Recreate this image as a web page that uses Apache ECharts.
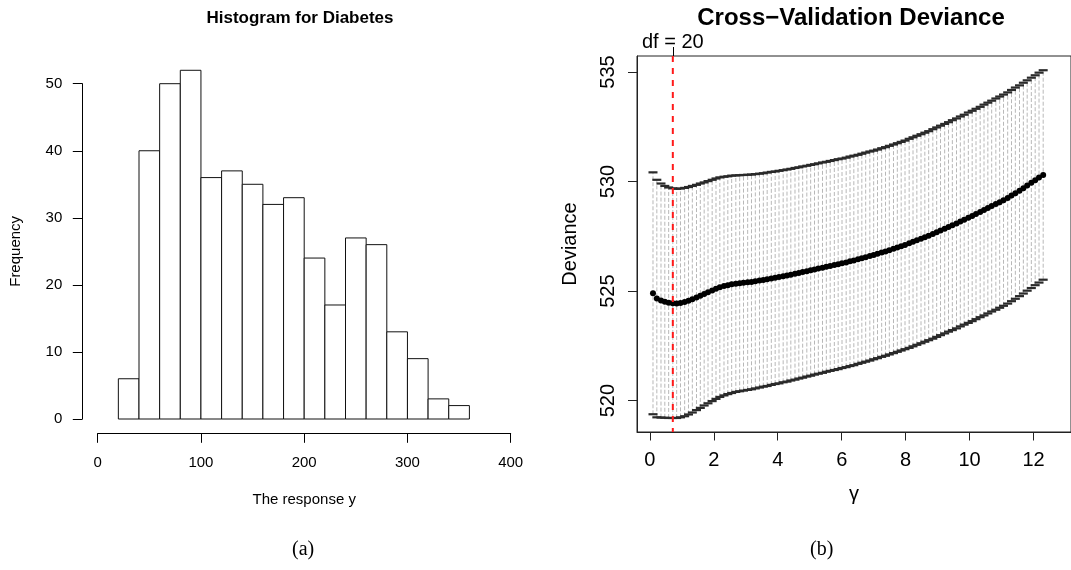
<!DOCTYPE html>
<html><head><meta charset="utf-8">
<script src="https://cdn.jsdelivr.net/npm/echarts@6/dist/echarts.min.js"></script>
<style>html,body{margin:0;padding:0;background:#fff}#c{width:1071px;height:570px}</style>
</head><body><div id="c"></div>
<script>
// ---------- Panel (a): histogram ----------
const histBreaks = [20,40,60,80,100,120,140,160,180,200,220,240,260,280,300,320,340,360];
const histCounts = [6,40,50,52,36,37,35,32,33,24,17,27,26,13,9,3,2];
const histTitle = 'Histogram for Diabetes';
const histXName = 'The response y';
const histYName = 'Frequency';

// ---------- Panel (b): cross-validation deviance ----------
const gammaValues = [
0.10,0.22,0.35,0.47,0.59,0.72,0.84,0.96,1.09,1.21,
1.33,1.46,1.58,1.70,1.82,1.95,2.07,2.19,2.32,2.44,
2.56,2.69,2.81,2.93,3.06,3.18,3.30,3.43,3.55,3.67,
3.80,3.92,4.04,4.17,4.29,4.41,4.54,4.66,4.78,4.91,
5.03,5.15,5.27,5.40,5.52,5.64,5.77,5.89,6.01,6.14,
6.26,6.38,6.51,6.63,6.75,6.88,7.00,7.12,7.25,7.37,
7.49,7.62,7.74,7.86,7.98,8.11,8.23,8.35,8.48,8.60,
8.72,8.85,8.97,9.09,9.22,9.34,9.46,9.59,9.71,9.83,
9.96,10.08,10.20,10.33,10.45,10.57,10.69,10.82,10.94,11.06,
11.19,11.31,11.43,11.56,11.68,11.80,11.93,12.05,12.17,12.30];
const cvMean = [
524.90,524.66,524.57,524.51,524.47,524.45,524.44,524.46,524.50,524.56,
524.63,524.71,524.79,524.87,524.95,525.03,525.11,525.18,525.23,525.27,
525.31,525.34,525.36,525.38,525.40,525.42,525.45,525.48,525.51,525.54,
525.58,525.61,525.64,525.68,525.71,525.75,525.79,525.83,525.87,525.91,
525.95,525.99,526.03,526.07,526.11,526.15,526.19,526.23,526.27,526.31,
526.36,526.40,526.45,526.50,526.55,526.60,526.65,526.70,526.76,526.81,
526.87,526.93,526.99,527.05,527.11,527.18,527.25,527.32,527.39,527.46,
527.53,527.61,527.69,527.77,527.85,527.93,528.01,528.09,528.18,528.26,
528.35,528.43,528.52,528.61,528.70,528.79,528.88,528.97,529.06,529.15,
529.25,529.36,529.47,529.58,529.70,529.82,529.94,530.06,530.18,530.30];
const cvSE = [
5.52,5.42,5.34,5.29,5.26,5.24,5.23,5.22,5.21,5.19,
5.17,5.14,5.12,5.09,5.07,5.05,5.03,5.01,4.99,4.97,
4.96,4.94,4.93,4.92,4.91,4.90,4.89,4.88,4.87,4.87,
4.86,4.85,4.85,4.84,4.84,4.83,4.83,4.82,4.82,4.81,
4.81,4.80,4.80,4.80,4.79,4.79,4.79,4.79,4.78,4.78,
4.78,4.78,4.77,4.77,4.77,4.77,4.76,4.76,4.76,4.76,
4.76,4.76,4.76,4.76,4.76,4.77,4.77,4.77,4.77,4.77,
4.77,4.78,4.78,4.78,4.78,4.78,4.79,4.79,4.79,4.79,
4.80,4.80,4.80,4.80,4.81,4.81,4.81,4.82,4.82,4.82,
4.82,4.82,4.82,4.81,4.81,4.80,4.80,4.79,4.79,4.78];
const dfGamma = 0.72;
const dfLabel = 'df = 20';
const cvXTicks = [0,2,4,6,8,10,12];
const cvYTicks = [520,525,530,535];
const cvTitle = 'Cross\u2212Validation Deviance';
const cvXName = '\u03b3';
const cvYName = 'Deviance';
const captions = ['(a)', '(b)'];

const SANS = 'Liberation Sans, Arial, Helvetica, sans-serif';
const SERIF = 'Liberation Serif, Times New Roman, serif';

const histData = histCounts.map((c, i) => [histBreaks[i], histBreaks[i + 1], c]);
const barData = gammaValues.map((g, i) => [g, cvMean[i] - cvSE[i], cvMean[i] + cvSE[i]]);
const meanData = gammaValues.map((g, i) => [g, cvMean[i]]);

const chart = echarts.init(document.getElementById('c'), null, {renderer: 'canvas'});

const axisTxt = {color: '#000', fontFamily: SANS};

chart.setOption({
  backgroundColor: '#fff',
  animation: false,
  title: [
    {text: histTitle, left: 300, top: 10, textAlign: 'center', padding: 0,
     textStyle: {fontSize: 17, fontWeight: 'bold', color: '#000', fontFamily: SANS}},
    {text: cvTitle, left: 851, top: 6, textAlign: 'center', padding: 0,
     textStyle: {fontSize: 24, fontWeight: 'bold', color: '#000', fontFamily: SANS}}
  ],
  grid: [
    {left: 97.7, top: 83.7, width: 413, height: 335.3, show: false},
    {left: 637, top: 56, width: 440, height: 376, show: true, borderColor: '#222', borderWidth: 1, backgroundColor: 'transparent'}
  ],
  xAxis: [
    {gridIndex: 0, type: 'value', min: 0, max: 400, interval: 100, offset: 14.3,
     axisLine: {onZero: false, lineStyle: {color: '#000', width: 1}},
     axisTick: {length: 9.5, lineStyle: {color: '#000'}},
     axisLabel: Object.assign({fontSize: 15, margin: 22}, axisTxt),
     splitLine: {show: false},
     name: histXName, nameLocation: 'middle', nameGap: 59,
     nameTextStyle: Object.assign({fontSize: 15}, axisTxt)},
    {gridIndex: 1, type: 'value', min: -0.4, max: 13.17, position: 'bottom',
     axisLine: {onZero: false, lineStyle: {color: '#222', width: 1}},
     axisTick: {length: 8.5, customValues: cvXTicks, lineStyle: {color: '#222'}},
     axisLabel: Object.assign({fontSize: 20, margin: 18, customValues: cvXTicks}, axisTxt),
     splitLine: {show: false},
     name: cvXName, nameLocation: 'middle', nameGap: 52,
     nameTextStyle: Object.assign({fontSize: 20}, axisTxt)},
    {gridIndex: 1, type: 'value', min: -0.4, max: 13.17, position: 'top',
     axisLine: {show: false, onZero: false},
     axisTick: {length: 9, customValues: [dfGamma], lineStyle: {color: '#000'}},
     axisLabel: Object.assign({fontSize: 20, margin: 4, customValues: [dfGamma], formatter: () => dfLabel}, axisTxt),
     splitLine: {show: false}}
  ],
  yAxis: [
    {gridIndex: 0, type: 'value', min: 0, max: 50, interval: 10, offset: 15.4,
     axisLine: {show: true, onZero: false, lineStyle: {color: '#000', width: 1}},
     axisTick: {show: true, length: 9.5, lineStyle: {color: '#000'}},
     axisLabel: Object.assign({fontSize: 15, margin: 20}, axisTxt),
     splitLine: {show: false},
     name: histYName, nameLocation: 'middle', nameGap: 59, nameRotate: 90,
     nameTextStyle: Object.assign({fontSize: 15}, axisTxt)},
    {gridIndex: 1, type: 'value', min: 518.57, max: 535.73,
     axisLine: {show: true, onZero: false, lineStyle: {color: '#222', width: 1}},
     axisTick: {show: true, length: 9, customValues: cvYTicks, lineStyle: {color: '#222'}},
     axisLabel: Object.assign({fontSize: 20, margin: 19, rotate: 90, customValues: cvYTicks}, axisTxt),
     splitLine: {show: false},
     name: cvYName, nameLocation: 'middle', nameGap: 57, nameRotate: 90,
     nameTextStyle: Object.assign({fontSize: 20}, axisTxt)}
  ],
  series: [
    {type: 'custom', xAxisIndex: 0, yAxisIndex: 0, clip: false, data: histData,
     encode: {x: [0, 1], y: 2},
     renderItem: function (params, api) {
       const p0 = api.coord([api.value(0), 0]);
       const p1 = api.coord([api.value(1), api.value(2)]);
       return {type: 'rect',
         shape: {x: p0[0], y: p1[1], width: p1[0] - p0[0], height: p0[1] - p1[1]},
         style: {fill: '#fff', stroke: '#111', lineWidth: 1}};
     }},
    {type: 'custom', xAxisIndex: 1, yAxisIndex: 1, data: barData, z: 2,
     encode: {x: 0, y: [1, 2]},
     renderItem: function (params, api) {
       const lo = api.coord([api.value(0), api.value(1)]);
       const hi = api.coord([api.value(0), api.value(2)]);
       return {type: 'line', shape: {x1: lo[0], y1: lo[1], x2: hi[0], y2: hi[1]},
         style: {stroke: '#b8b8b8', lineWidth: 1, lineDash: [4, 2]}};
     }},
    {type: 'custom', xAxisIndex: 1, yAxisIndex: 1, data: barData, z: 3,
     encode: {x: 0, y: [1, 2]},
     renderItem: function (params, api) {
       const lo = api.coord([api.value(0), api.value(1)]);
       const hi = api.coord([api.value(0), api.value(2)]);
       const hw = 4.5;
       return {type: 'group', children: [
         {type: 'line', shape: {x1: lo[0] - hw, y1: lo[1], x2: lo[0] + hw, y2: lo[1]},
          style: {stroke: '#2a2a2a', lineWidth: 2.2}},
         {type: 'line', shape: {x1: hi[0] - hw, y1: hi[1], x2: hi[0] + hw, y2: hi[1]},
          style: {stroke: '#2a2a2a', lineWidth: 2.2}}
       ]};
     }},
    {type: 'scatter', xAxisIndex: 1, yAxisIndex: 1, data: meanData, z: 4,
     symbol: 'circle', symbolSize: 6, itemStyle: {color: '#000', opacity: 1}, silent: true},
    {type: 'custom', xAxisIndex: 1, yAxisIndex: 1, data: [[dfGamma]], z: 5,
     encode: {x: 0},
     renderItem: function (params, api) {
       const cs = params.coordSys;
       const p = api.coord([api.value(0), 525]);
       return {type: 'line', shape: {x1: p[0], y1: cs.y, x2: p[0], y2: cs.y + cs.height},
         style: {stroke: '#ff1a1a', lineWidth: 2, lineDash: [6, 6]}};
     }}
  ],
  graphic: [
    {type: 'text', left: 292, top: 540, style: {text: captions[0], font: '20px ' + SERIF, fill: '#000'}},
    {type: 'text', left: 810, top: 540, style: {text: captions[1], font: '20px ' + SERIF, fill: '#000'}}
  ]
});
</script>
</body></html>
